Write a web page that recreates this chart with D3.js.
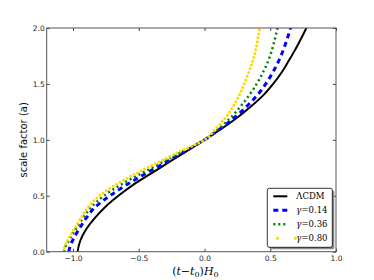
<!DOCTYPE html>
<html>
<head>
<meta charset="utf-8">
<script src="https://cdn.jsdelivr.net/npm/d3@7"></script>
<style>
  body { margin: 0; background: #fff; }
  svg { display: block; }
</style>
</head>
<body>
<svg id="chart" width="374" height="280"></svg>
<script>
// scale factor grid shared by all curves
const scaleFactor = [0, 0.05, 0.1, 0.2, 0.3, 0.4, 0.5, 0.6, 0.7, 0.8, 0.9, 1.0,
                     1.1, 1.2, 1.3, 1.4, 1.5, 1.6, 1.7, 1.8, 1.9, 2.0];

// (t - t0) H0 for each curve
const tLCDM = [-0.964, -0.957, -0.944, -0.9, -0.835, -0.755, -0.655, -0.54, -0.405, -0.27, -0.135, 0.0,
               0.13, 0.25, 0.355, 0.448, 0.522, 0.585, 0.637, 0.687, 0.732, 0.775];
const tGamma014 = [-1.032, -1.022, -1.003, -0.955, -0.9, -0.83, -0.72, -0.59, -0.445, -0.295, -0.145, 0.0,
                   0.12, 0.228, 0.322, 0.402, 0.466, 0.518, 0.562, 0.598, 0.628, 0.655];
const tGamma036 = [-1.07, -1.055, -1.032, -0.98, -0.925, -0.86, -0.765, -0.635, -0.48, -0.32, -0.16, 0.0,
                   0.11, 0.2, 0.275, 0.34, 0.397, 0.443, 0.483, 0.512, 0.535, 0.555];
const tGamma080 = [-1.072, -1.062, -1.042, -0.993, -0.94, -0.885, -0.8, -0.675, -0.52, -0.35, -0.18, 0.0,
                   0.085, 0.16, 0.218, 0.265, 0.302, 0.335, 0.365, 0.388, 0.405, 0.42];

const seriesNames = ["ΛCDM", "γ=0.14", "γ=0.36", "γ=0.80"];
const xTicks = [-1.0, -0.5, 0.0, 0.5, 1.0];
const yTicks = [0.0, 0.5, 1.0, 1.5, 2.0];

const series = [
  { name: seriesNames[0], t: tLCDM,     color: "#000000", width: 2,   dash: null,  cap: "butt" },
  { name: seriesNames[1], t: tGamma014, color: "#0000ff", width: 3,   dash: "5,4", cap: "butt" },
  { name: seriesNames[2], t: tGamma036, color: "#008000", width: 2.5, dash: "2,3", cap: "butt" },
  { name: seriesNames[3], t: tGamma080, color: "#ffd700", width: 3,   dash: "0,4", cap: "round" }
];

const svg = d3.select("#chart");
const margin = { left: 46.7, right: 38, top: 28, bottom: 28.3 };
const width = 374 - margin.left - margin.right;
const height = 280 - margin.top - margin.bottom;

const x = d3.scaleLinear().domain([-1.2, 1.0]).range([0, width]);
const y = d3.scaleLinear().domain([0, 2]).range([height, 0]);

const g = svg.append("g").attr("transform", `translate(${margin.left},${margin.top})`);

g.append("clipPath").attr("id", "plot-clip")
  .append("rect").attr("width", width).attr("height", height);

const line = d3.line()
  .x(d => x(d[0]))
  .y(d => y(d[1]))
  .curve(d3.curveMonotoneY);

const curves = g.append("g").attr("clip-path", "url(#plot-clip)");
series.forEach(s => {
  const pts = s.t.map((t, i) => [t, scaleFactor[i]]);
  curves.append("path")
    .datum(pts)
    .attr("d", line)
    .attr("fill", "none")
    .attr("stroke", s.color)
    .attr("stroke-width", s.width)
    .attr("stroke-linecap", s.cap)
    .attr("stroke-dasharray", s.dash);
});

// axes: inward ticks on all four sides
const fmt = d3.format(".1f");
const tickStyle = sel => {
  sel.select(".domain").remove();
  sel.selectAll("line").attr("stroke", "#444");
  sel.selectAll("text")
    .attr("fill", "#222")
    .style("font-family", "DejaVu Sans, sans-serif")
    .style("font-size", "7.5px");
};

g.append("g").attr("transform", `translate(0,${height})`)
  .call(d3.axisBottom(x).tickValues(xTicks).tickFormat(fmt).tickSizeInner(-3).tickSizeOuter(0).tickPadding(4))
  .call(tickStyle);
g.append("g")
  .call(d3.axisTop(x).tickValues(xTicks).tickFormat("").tickSizeInner(-3).tickSizeOuter(0))
  .call(tickStyle);
g.append("g")
  .call(d3.axisLeft(y).tickValues(yTicks).tickFormat(fmt).tickSizeInner(-3).tickSizeOuter(0).tickPadding(2))
  .call(tickStyle);
g.append("g").attr("transform", `translate(${width},0)`)
  .call(d3.axisRight(y).tickValues(yTicks).tickFormat("").tickSizeInner(-3).tickSizeOuter(0))
  .call(tickStyle);

g.append("rect")
  .attr("width", width).attr("height", height)
  .attr("fill", "none").attr("stroke", "#555").attr("stroke-width", 1);

// axis labels
svg.append("text")
  .attr("x", margin.left + width / 2 + 4)
  .attr("y", 275)
  .attr("text-anchor", "middle")
  .style("font-family", "DejaVu Serif, serif")
  .style("font-size", "11px")
  .html('(<tspan font-style="italic">t</tspan>−<tspan font-style="italic">t</tspan><tspan font-size="8px" dy="2">0</tspan><tspan dy="-2">)</tspan><tspan font-style="italic">H</tspan><tspan font-size="8px" dy="2">0</tspan>');

svg.append("text")
  .attr("transform", `translate(27,${margin.top + height / 2}) rotate(-90)`)
  .attr("text-anchor", "middle")
  .style("font-family", "DejaVu Sans, sans-serif")
  .style("font-size", "10px")
  .attr("fill", "#111")
  .text("scale factor (a)");

// legend
const lg = svg.append("g").attr("transform", "translate(267.3,188.3)");
const lw = 65, lh = 59;
lg.append("rect").attr("x", 2).attr("y", 2).attr("width", lw).attr("height", lh)
  .attr("rx", 2).attr("fill", "#888");
lg.append("rect").attr("width", lw).attr("height", lh)
  .attr("rx", 2).attr("fill", "#fff").attr("stroke", "#000").attr("stroke-width", 0.8);

series.forEach((s, i) => {
  const yy = 8 + i * 14;
  if (i === 3) {
    [10, 28].forEach(cx => lg.append("circle").attr("cx", cx).attr("cy", yy).attr("r", 1.5).attr("fill", s.color));
  } else {
    lg.append("line")
      .attr("x1", 6).attr("x2", 20).attr("y1", yy).attr("y2", yy)
      .attr("stroke", s.color)
      .attr("stroke-width", s.width)
      .attr("stroke-dasharray", s.dash);
  }
  const txt = lg.append("text")
    .attr("x", 29).attr("y", yy + 3)
    .style("font-family", "DejaVu Serif, serif")
    .style("font-size", "8.5px");
  if (i === 0) {
    txt.text(s.name);
  } else {
    txt.append("tspan").attr("font-style", "italic").text("γ");
    txt.append("tspan").text(s.name.slice(1));
  }
});
</script>
</body>
</html>
